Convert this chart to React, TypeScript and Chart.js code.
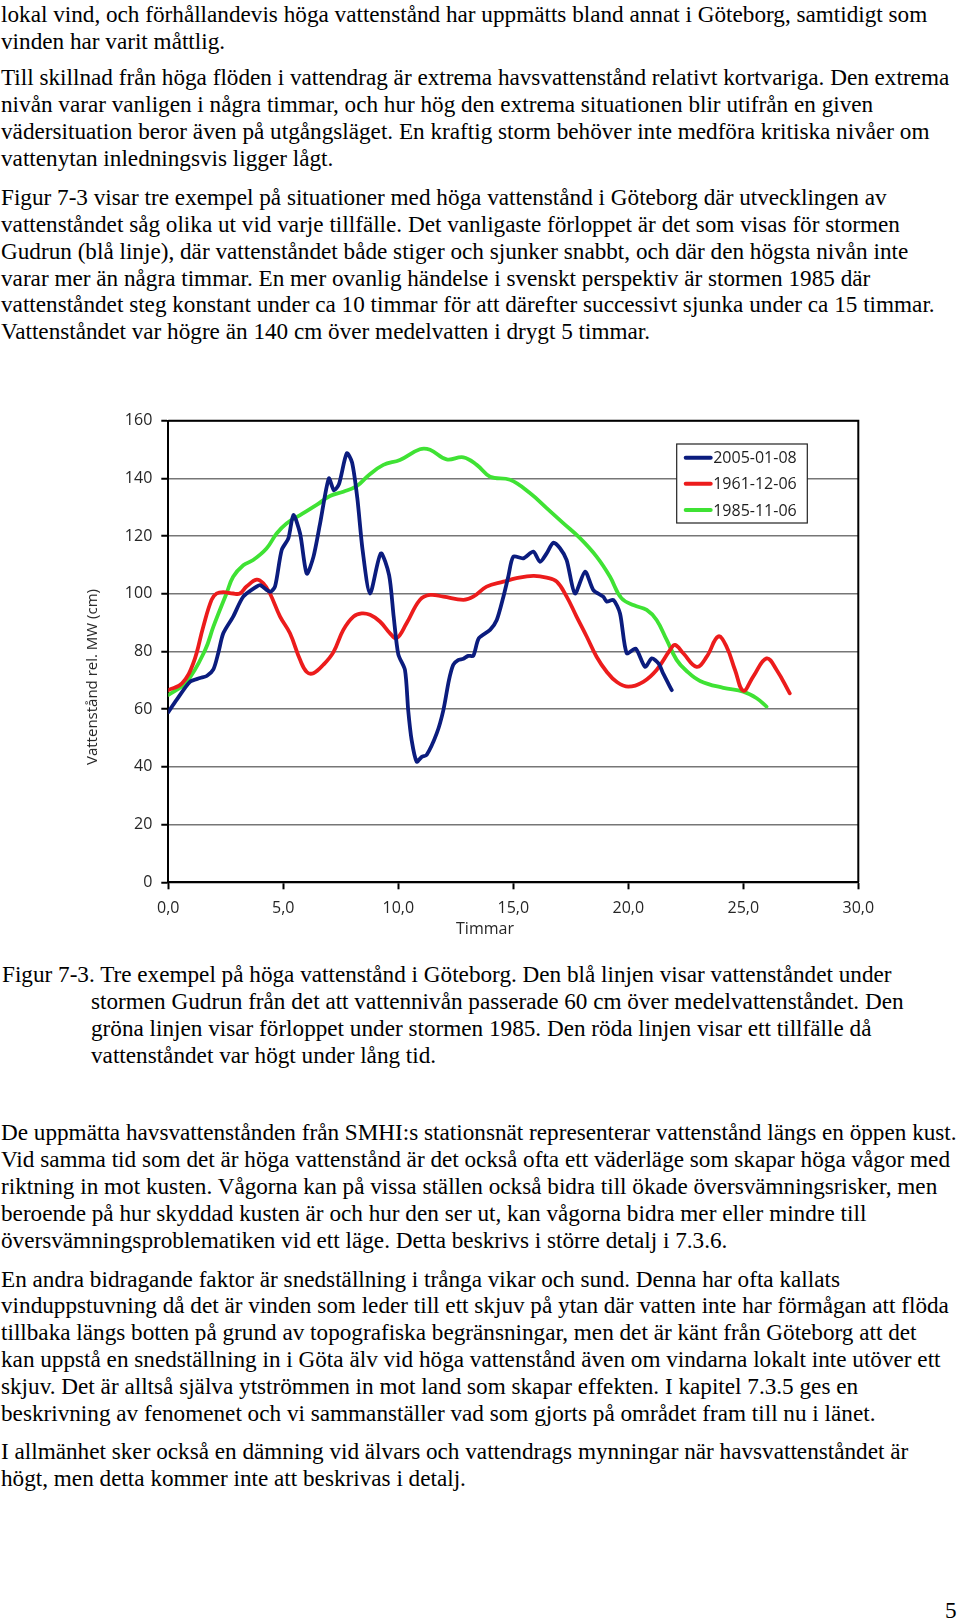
import React, { useEffect, useRef } from "react";
import { Chart, registerables } from "chart.js";

Chart.register(...registerables);

// ---- Data ----
const seriesLabels = ["2005-01-08", "1961-12-06", "1985-11-06"];
const seriesColors = ["#0b1c7e", "#ec1c1c", "#3fe234"];

const blueHours = [0, 0.36, 0.94, 1.38, 1.67, 1.96, 2.17, 2.39, 2.82, 3.26, 3.84, 4.0, 4.42, 4.64, 4.93, 5.22, 5.44, 5.73, 6.02, 6.31, 6.6, 6.98, 7.2, 7.42, 7.76, 7.99, 8.22, 8.45, 8.77, 9.24, 9.6, 9.8, 10.0, 10.29, 10.43, 10.58, 10.8, 11.02, 11.23, 11.67, 11.96, 12.2, 12.39, 12.6, 12.83, 13.04, 13.26, 13.5, 13.99, 14.28, 14.57, 14.78, 15.0, 15.43, 15.87, 16.16, 16.45, 16.74, 17.03, 17.32, 17.68, 18.12, 18.48, 18.91, 19.06, 19.35, 19.64, 19.93, 20.32, 20.73, 21.02, 21.32, 21.52, 21.89];
const blueLevels = [59, 63.2, 69.5, 70.8, 71.5, 73.8, 79.4, 86.3, 92.1, 99.0, 102.5, 103.0, 100.7, 102.5, 115.2, 119.2, 127.3, 120.9, 107.0, 112.8, 124.4, 140.0, 135.9, 138.0, 148.7, 145.5, 133.0, 115.0, 100.1, 114.0, 106.5, 92.0, 79.0, 73.6, 59.7, 49.3, 41.8, 43.5, 44.1, 51.6, 59.7, 70.0, 75.4, 77.0, 77.5, 78.5, 78.5, 84.6, 87.5, 90.9, 99.0, 105.9, 112.9, 112.3, 114.6, 111.1, 114.0, 117.7, 115.8, 111.7, 100.1, 107.7, 101.3, 99.0, 97.3, 97.9, 93.2, 79.4, 81.0, 74.7, 77.6, 75.8, 72.3, 66.6];

const redHours = [0, 0.6, 1.09, 1.52, 1.88, 2.1, 2.39, 2.82, 3.11, 3.4, 3.84, 4.13, 4.42, 4.86, 5.29, 5.73, 6.02, 6.31, 6.74, 7.18, 7.61, 8.05, 8.41, 8.77, 9.2, 9.64, 9.93, 10.36, 10.94, 11.38, 11.96, 12.83, 13.26, 13.84, 14.57, 15.14, 15.87, 16.45, 16.89, 17.32, 17.75, 18.19, 18.62, 19.06, 19.49, 20.0, 20.65, 21.23, 21.81, 22.03, 22.39, 22.97, 23.41, 23.91, 24.27, 24.64, 25.0, 25.43, 26.01, 26.45, 27.02];
const redLevels = [66.6, 69.0, 76.0, 88.6, 97.9, 100.1, 100.6, 100.1, 100.1, 102.5, 104.9, 103.6, 100.1, 92.1, 86.3, 77.1, 72.9, 72.5, 75.4, 79.8, 87.5, 92.1, 93.2, 92.7, 90.4, 86.3, 84.6, 89.8, 97.9, 99.6, 99.0, 97.9, 99.0, 102.5, 104.2, 105.4, 106.2, 105.6, 104.2, 99.0, 92.1, 85.2, 78.2, 73.0, 69.5, 67.8, 69.5, 73.6, 80.5, 82.3, 79.4, 74.7, 78.2, 85.2, 81.7, 73.6, 66.4, 71.3, 77.6, 73.6, 65.5];

const greenHours = [0, 0.8, 1.6, 1.96, 2.53, 2.82, 3.26, 3.69, 4.27, 4.71, 5.14, 5.73, 6.45, 7.03, 7.61, 8.19, 8.7, 9.35, 10.07, 10.94, 11.38, 12.1, 12.83, 13.41, 13.99, 14.86, 15.72, 16.45, 17.17, 17.9, 18.62, 19.2, 19.7, 20.25, 20.8, 21.23, 21.67, 22.1, 22.5, 23.12, 24.13, 25.0, 25.58, 26.01];
const greenLevels = [64.9, 69.5, 80.5, 88.6, 100.1, 105.9, 109.9, 111.7, 115.7, 120.9, 124.4, 127.3, 130.8, 133.9, 135.4, 137.3, 141.0, 144.7, 146.4, 150.1, 149.9, 146.6, 147.3, 144.7, 140.6, 139.5, 134.9, 129.7, 124.5, 119.3, 112.9, 106.0, 98.5, 96.0, 94.4, 90.9, 84.0, 77.1, 73.5, 69.8, 67.4, 66.1, 63.8, 60.9];

const xTickValues = [0, 5, 10, 15, 20, 25, 30];
const xTickLabels = ["0,0", "5,0", "10,0", "15,0", "20,0", "25,0", "30,0"];
const yTickValues = [0, 20, 40, 60, 80, 100, 120, 140, 160];

const yAxisTitle = "Vattenstånd rel. MW (cm)";
const xAxisTitle = "Timmar";

// ---- Page text ----
const paragraphs = [
  {
    top: 0.7,
    lines: [
      "lokal vind, och förhållandevis höga vattenstånd har uppmätts bland annat i Göteborg, samtidigt som",
      "vinden har varit måttlig.",
    ],
  },
  {
    top: 63.9,
    lines: [
      "Till skillnad från höga flöden i vattendrag är extrema havsvattenstånd relativt kortvariga. Den extrema",
      "nivån varar vanligen i några timmar, och hur hög den extrema situationen blir utifrån en given",
      "vädersituation beror även på utgångsläget. En kraftig storm behöver inte medföra kritiska nivåer om",
      "vattenytan inledningsvis ligger lågt.",
    ],
  },
  {
    top: 183.8,
    lines: [
      "Figur 7-3 visar tre exempel på situationer med höga vattenstånd i Göteborg där utvecklingen av",
      "vattenståndet såg olika ut vid varje tillfälle. Det vanligaste förloppet är det som visas för stormen",
      "Gudrun (blå linje), där vattenståndet både stiger och sjunker snabbt, och där den högsta nivån inte",
      "varar mer än några timmar. En mer ovanlig händelse i svenskt perspektiv är stormen 1985 där",
      "vattenståndet steg konstant under ca 10 timmar för att därefter successivt sjunka under ca 15 timmar.",
      "Vattenståndet var högre än 140 cm över medelvatten i drygt 5 timmar.",
    ],
  },
  {
    top: 1118.9,
    lines: [
      "De uppmätta havsvattenstånden från SMHI:s stationsnät representerar vattenstånd längs en öppen kust.",
      "Vid samma tid som det är höga vattenstånd är det också ofta ett väderläge som skapar höga vågor med",
      "riktning in mot kusten. Vågorna kan på vissa ställen också bidra till ökade översvämningsrisker, men",
      "beroende på hur skyddad kusten är och hur den ser ut, kan vågorna bidra mer eller mindre till",
      "översvämningsproblematiken vid ett läge. Detta beskrivs i större detalj i 7.3.6.",
    ],
  },
  {
    top: 1265.5,
    lines: [
      "En andra bidragande faktor är snedställning i trånga vikar och sund. Denna har ofta kallats",
      "vinduppstuvning då det är vinden som leder till ett skjuv på ytan där vatten inte har förmågan att flöda",
      "tillbaka längs botten på grund av topografiska begränsningar, men det är känt från Göteborg att det",
      "kan uppstå en snedställning in i Göta älv vid höga vattenstånd även om vindarna lokalt inte utöver ett",
      "skjuv. Det är alltså själva ytströmmen in mot land som skapar effekten. I kapitel 7.3.5 ges en",
      "beskrivning av fenomenet och vi sammanställer vad som gjorts på området fram till nu i länet.",
    ],
  },
  {
    top: 1438.2,
    lines: [
      "I allmänhet sker också en dämning vid älvars och vattendrags mynningar när havsvattenståndet är",
      "högt, men detta kommer inte att beskrivas i detalj.",
    ],
  },
];

const captionLines = [
  "Figur 7-3. Tre exempel på höga vattenstånd i Göteborg. Den blå linjen visar vattenståndet under",
  "stormen Gudrun från det att vattennivån passerade 60 cm över medelvattenståndet. Den",
  "gröna linjen visar förloppet under stormen 1985. Den röda linjen visar ett tillfälle då",
  "vattenståndet var högt under lång tid.",
];

const LINE_H = 26.9;
const CHART_FONT = '"Open Sans", "Liberation Sans", sans-serif';

function zip(xs: number[], ys: number[]) {
  return xs.map((x, i) => ({ x, y: ys[i] }));
}

const frameAndLegend = {
  id: "frameAndLegend",
  beforeDatasetsDraw(chart: any) {
    const { ctx, chartArea } = chart;
    ctx.save();
    ctx.strokeStyle = "#000";
    ctx.lineWidth = 2;
    ctx.beginPath();
    ctx.moveTo(chartArea.left, chartArea.top);
    ctx.lineTo(chartArea.right, chartArea.top);
    ctx.lineTo(chartArea.right, chartArea.bottom);
    ctx.stroke();
    ctx.restore();
  },
  afterDatasetsDraw(chart: any) {
    const { ctx, chartArea } = chart;
    const x0 = chartArea.right - 181.6;
    const y0 = chartArea.top + 23.3;
    const w = 130.6;
    const h = 79;
    ctx.save();
    ctx.fillStyle = "#fff";
    ctx.fillRect(x0, y0, w, h);
    ctx.strokeStyle = "#222";
    ctx.lineWidth = 1.2;
    ctx.strokeRect(x0, y0, w, h);
    chart.data.datasets.forEach((ds: any, i: number) => {
      const cy = y0 + 13.7 + i * 26.15;
      ctx.strokeStyle = ds.borderColor;
      ctx.lineWidth = 4;
      ctx.lineCap = "round";
      ctx.beginPath();
      ctx.moveTo(x0 + 9, cy);
      ctx.lineTo(x0 + 34, cy);
      ctx.stroke();
      ctx.fillStyle = "#1e1e1e";
      ctx.font = `16px ${CHART_FONT}`;
      ctx.textBaseline = "middle";
      ctx.textAlign = "left";
      ctx.fillText(ds.label, x0 + 36.5, cy + 1);
    });
    ctx.restore();
  },
};

function WaterChart() {
  const ref = useRef<HTMLCanvasElement>(null);
  useEffect(() => {
    if (!ref.current) return;
    const hours = [blueHours, redHours, greenHours];
    const levels = [blueLevels, redLevels, greenLevels];
    const chart = new Chart(ref.current, {
      type: "line",
      data: {
        datasets: seriesLabels.map((label, i) => ({
          label,
          data: zip(hours[i], levels[i]),
          borderColor: seriesColors[i],
          backgroundColor: seriesColors[i],
          borderWidth: 3.8,
          pointRadius: 0,
          tension: i === 0 ? 0.25 : 0.4,
          borderCapStyle: "round",
          borderJoinStyle: "round",
          fill: false,
        })),
      },
      options: {
        animation: false,
        responsive: false,
        devicePixelRatio: 1,
        layout: { padding: { top: 20.7, right: 41.7, left: 0, bottom: 0 } },
        plugins: {
          legend: { display: false },
          tooltip: { enabled: false },
        },
        scales: {
          x: {
            type: "linear",
            min: 0,
            max: 30,
            afterBuildTicks: (scale: any) => {
              scale.ticks = xTickValues.map((v) => ({ value: v }));
            },
            afterFit: (scale: any) => {
              scale.height = 62.7;
            },
            ticks: {
              autoSkip: false,
              maxRotation: 0,
              padding: 10,
              color: "#262626",
              font: { family: CHART_FONT, size: 16 },
              callback: (v: any) => {
                const idx = xTickValues.indexOf(Number(v));
                return idx >= 0 ? xTickLabels[idx] : "";
              },
            },
            grid: {
              drawOnChartArea: false,
              drawTicks: true,
              tickLength: 7,
              tickColor: "#000",
              tickWidth: 2,
            },
            border: { color: "#000", width: 2 },
          },
          y: {
            min: 0,
            max: 160,
            afterBuildTicks: (scale: any) => {
              scale.ticks = yTickValues.map((v) => ({ value: v }));
            },
            afterFit: (scale: any) => {
              scale.width = 168.3;
            },
            ticks: {
              padding: 9,
              color: "#262626",
              font: { family: CHART_FONT, size: 16 },
            },
            grid: {
              color: "#767676",
              lineWidth: 1.5,
              drawTicks: true,
              tickLength: 7,
              tickColor: "#000",
              tickWidth: 2,
            },
            border: { color: "#000", width: 2 },
          },
        },
      } as any,
      plugins: [frameAndLegend],
    } as any);
    return () => chart.destroy();
  }, []);
  return (
    <canvas
      ref={ref}
      width={900}
      height={545}
      style={{ position: "absolute", left: 0, top: 400, width: 900, height: 545 }}
    />
  );
}

export default function App() {
  return (
    <div
      style={{
        position: "relative",
        width: 960,
        height: 1620,
        overflow: "hidden",
        background: "#fff",
        color: "#000",
        fontFamily: '"Liberation Serif", "Times New Roman", serif',
        fontSize: 23.2,
        lineHeight: `${LINE_H}px`,
      }}
    >
      <style>{`body{margin:0;background:#fff}`}</style>
      {paragraphs.map((p, i) => (
        <div key={i} style={{ position: "absolute", left: 1, top: p.top }}>
          {p.lines.map((l, j) => (
            <div key={j} style={{ whiteSpace: "nowrap" }}>{l}</div>
          ))}
        </div>
      ))}

      <WaterChart />
      <div
        style={{
          position: "absolute",
          left: 91,
          top: 676.5,
          transform: "translate(-50%, -50%) rotate(-90deg)",
          whiteSpace: "nowrap",
          fontFamily: CHART_FONT,
          fontSize: 15,
          lineHeight: "18px",
          color: "#262626",
        }}
      >
        {yAxisTitle}
      </div>
      <div
        style={{
          position: "absolute",
          left: 485,
          top: 928,
          transform: "translate(-50%, -50%)",
          whiteSpace: "nowrap",
          fontFamily: CHART_FONT,
          fontSize: 16,
          lineHeight: "20px",
          color: "#262626",
        }}
      >
        {xAxisTitle}
      </div>

      <div style={{ position: "absolute", left: 2, top: 960.9 }}>
        {captionLines.map((l, j) => (
          <div key={j} style={{ whiteSpace: "nowrap", paddingLeft: j === 0 ? 0 : 89 }}>{l}</div>
        ))}
      </div>

      <div style={{ position: "absolute", left: 945, top: 1596.7, whiteSpace: "nowrap" }}>5</div>
    </div>
  );
}
